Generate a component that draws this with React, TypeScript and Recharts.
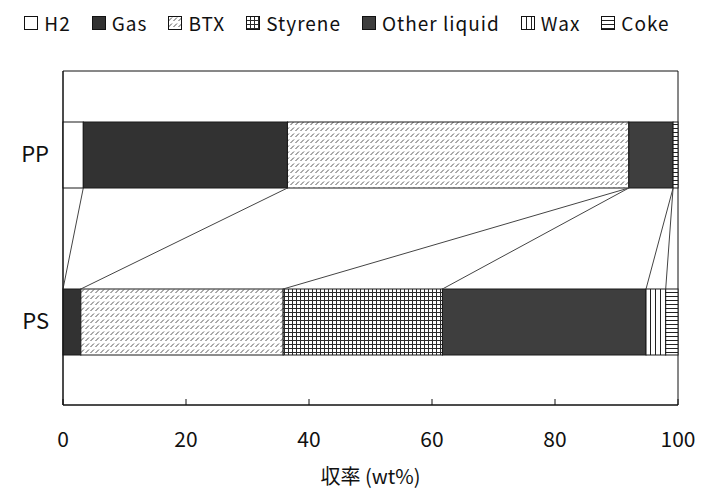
import React from "react";
import { BarChart, Bar, XAxis, YAxis, Legend, ReferenceArea } from "recharts";

const categories = ["PP", "PS"];
const seriesNames = ["H2", "Gas", "BTX", "Styrene", "Other liquid", "Wax", "Coke"];
const h2 = [3.3, 0];
const gas = [33.2, 2.9];
const btx = [55.5, 32.9];
const styrene = [0, 25.9];
const otherLiquid = [7.2, 33.1];
const wax = [0, 3.2];
const coke = [0.8, 2.0];
const xTicks = [0, 20, 40, 60, 80, 100];

const seriesValues = [h2, gas, btx, styrene, otherLiquid, wax, coke];
const fills = [
  "#ffffff",
  "#323232",
  "url(#pat-btx)",
  "url(#pat-styrene)",
  "#3e3e3e",
  "url(#pat-wax)",
  "url(#pat-coke)",
];

const data = categories.map((name, i) => {
  const row: Record<string, string | number> = { name };
  seriesNames.forEach((s, j) => {
    row[s] = seriesValues[j][i];
  });
  return row;
});

const FONT = '"Noto Sans CJK JP", "Noto Sans", sans-serif';

type Box = { x: number; y: number; width: number; height: number };
// rectangles as laid out by recharts, used for the series lines between bars
const boxes: Record<string, { pp?: Box; ps?: Box }> = {};

function seriesLines() {
  let ppBottom: number | undefined;
  let psTop: number | undefined;
  seriesNames.forEach((s) => {
    const b = boxes[s];
    if (b?.pp) ppBottom = b.pp.y + b.pp.height;
    if (b?.ps) psTop = b.ps.y;
  });
  if (ppBottom === undefined || psTop === undefined) return null;
  const lines: React.ReactNode[] = [];
  for (let i = 0; i < seriesNames.length - 1; i++) {
    const cur = boxes[seriesNames[i]] || {};
    const next = boxes[seriesNames[i + 1]] || {};
    const ppX = cur.pp ? cur.pp.x + cur.pp.width : next.pp?.x;
    const psX = cur.ps ? cur.ps.x + cur.ps.width : next.ps?.x;
    if (ppX === undefined || psX === undefined) continue;
    lines.push(
      <line key={i} x1={ppX} y1={ppBottom} x2={psX} y2={psTop} stroke="#444" strokeWidth={1} />
    );
  }
  return <g>{lines}</g>;
}

function makeShape(key: string, fill: string, last: boolean) {
  return (props: any) => {
    const { x, y, width, height, payload } = props;
    const entry = boxes[key] || (boxes[key] = {});
    const isPP = payload?.name === "PP";
    if (isPP) entry.pp = { x, y, width, height };
    else entry.ps = { x, y, width, height };
    return (
      <g>
        <rect x={x} y={y} width={Math.max(width, 0)} height={height} fill={fill} stroke="#1a1a1a" strokeWidth={1} />
        {last && !isPP ? seriesLines() : null}
      </g>
    );
  };
}

function LegendBox() {
  return (
    <div
      style={{
        height: 67,
        display: "flex",
        justifyContent: "center",
        alignItems: "flex-start",
        paddingTop: 5,
        paddingLeft: 16,
        boxSizing: "border-box",
        fontFamily: FONT,
        fontSize: 19,
        color: "#111",
      }}
    >
      {seriesNames.map((s, i) => (
        <div key={s} style={{ display: "flex", alignItems: "center", marginRight: i < seriesNames.length - 1 ? 21 : 0 }}>
          <svg width={14} height={14} style={{ marginRight: 6 }}>
            <rect x={0.5} y={0.5} width={13} height={13} fill={fills[i]} stroke="#111" strokeWidth={1} />
          </svg>
          <span style={{ letterSpacing: 1 }}>{s}</span>
        </div>
      ))}
    </div>
  );
}

export default function App() {
  return (
    <div style={{ position: "absolute", left: 0, top: 0, background: "#fff" }}>
      <BarChart
        width={701}
        height={493}
        data={data}
        layout="vertical"
        margin={{ top: 4, right: 23, left: 0, bottom: 28 }}
        barSize={66}
      >
        <defs>
          <pattern id="pat-btx" width={5} height={6} patternUnits="userSpaceOnUse">
            <rect width={5} height={6} fill="#fff" />
            <path d="M0.5,5 L4,1.5" stroke="#555" strokeWidth={1} />
          </pattern>
          <pattern id="pat-styrene" width={4} height={4} patternUnits="userSpaceOnUse">
            <rect width={4} height={4} fill="#fff" />
            <path d="M0,0.5 H4 M0.5,0 V4" stroke="#2a2a2a" strokeWidth={1} />
          </pattern>
          <pattern id="pat-wax" width={5} height={5} patternUnits="userSpaceOnUse">
            <rect width={5} height={5} fill="#fff" />
            <path d="M0.5,0 V5" stroke="#222" strokeWidth={1} />
          </pattern>
          <pattern id="pat-coke" width={4} height={4} patternUnits="userSpaceOnUse">
            <rect width={4} height={4} fill="#fff" />
            <path d="M0,0.5 H4" stroke="#222" strokeWidth={1} />
          </pattern>
        </defs>
        <Legend verticalAlign="top" content={() => <LegendBox />} />
        <XAxis
          type="number"
          domain={[0, 100]}
          ticks={xTicks}
          tickSize={-6}
          tickMargin={33}
          stroke="#111"
          height={60}
          tick={{ fill: "#111", fontSize: 21, fontFamily: FONT }}
          label={{
            value: "収率 (wt%)",
            position: "bottom",
            offset: 5,
            fill: "#111",
            fontSize: 20,
            fontFamily: FONT,
          }}
        />
        <YAxis
          type="category"
          dataKey="name"
          width={63}
          tickLine={false}
          tickMargin={8}
          stroke="#111"
          tick={{ fill: "#111", fontSize: 22, fontFamily: FONT }}
        />
        <ReferenceArea x1={0} x2={100} fill="none" stroke="#111" strokeWidth={1} ifOverflow="visible" />
        {seriesNames.map((s, i) => (
          <Bar
            key={s}
            dataKey={s}
            stackId="yield"
            fill={fills[i]}
            isAnimationActive={false}
            shape={makeShape(s, fills[i], i === seriesNames.length - 1)}
          />
        ))}
      </BarChart>
    </div>
  );
}
